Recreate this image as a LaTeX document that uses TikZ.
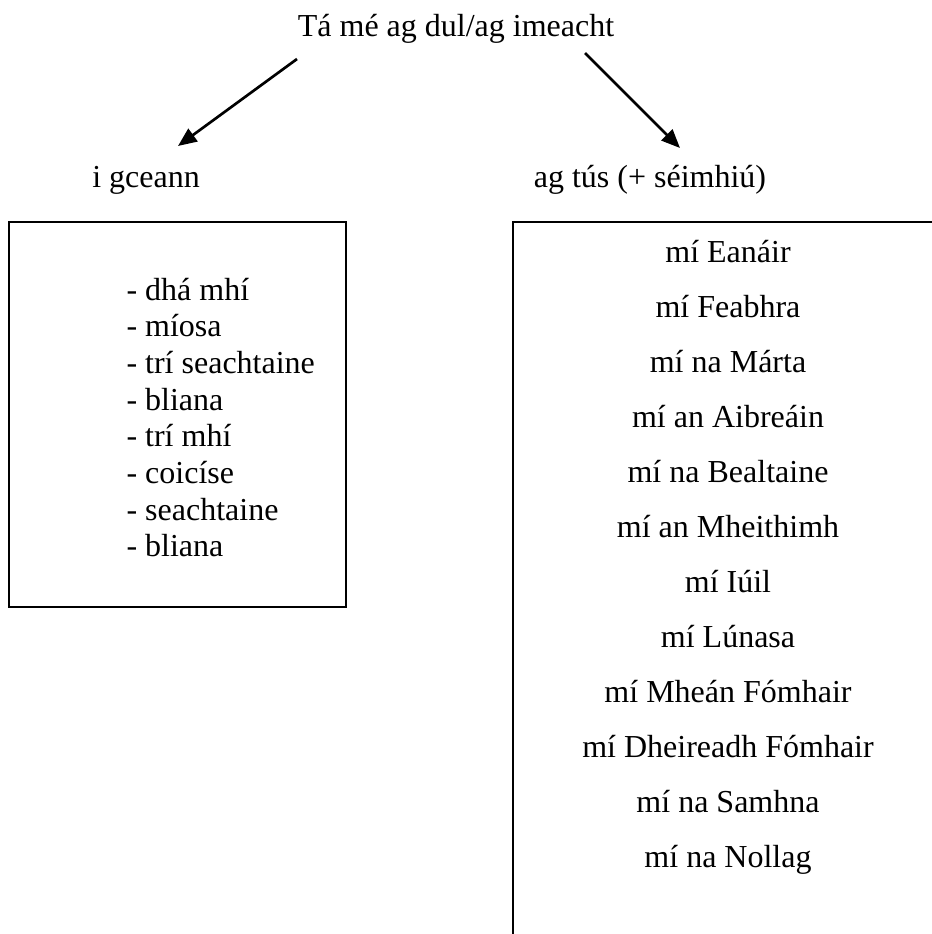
\documentclass[tikz,border=0pt]{standalone}
\usepackage{fontspec}
\setmainfont{Liberation Serif}
\usepackage{tikz}
\usetikzlibrary{arrows.meta}

\begin{document}
\begin{tikzpicture}[x=0.375pt,y=-0.375pt,
  txt/.style={inner sep=0pt,font=\fontsize{12}{14}\selectfont},
  item/.style={txt,anchor=base west},
  month/.style={txt,anchor=base},
  arr/.style={line width=1pt,-{Triangle[length=7pt,width=5.8pt]}}]
\useasboundingbox (0,0) rectangle (931,934);

\node[month] (title) at (456,37) {Tá mé ag dul/ag imeacht};
\node[month] (ceann) at (146,187) {i gceann};
\node[month] (tus) at (650,187) {ag tús (+ séimhiú)};

\coordinate (a1) at (297,59);
\coordinate (a2) at (178,146);
\coordinate (b1) at (585,53);
\coordinate (b2) at (680,148);
\draw[arr] (a1) -- (a2);
\draw[arr] (b1) -- (b2);

\draw[line width=0.9pt] (9,222) rectangle (346,607);
\draw[line width=0.9pt] (935,222) -- (513,222) -- (513,938);

\foreach \t [count=\i from 0] in {dhá mhí,míosa,trí seachtaine,bliana,trí mhí,coicíse,seachtaine,bliana}
  \node[item] (d\i) at (126,{300+36.7*\i}) {- \t};

\foreach \t [count=\i from 0] in {Eanáir,Feabhra,na Márta,an Aibreáin,na Bealtaine,an Mheithimh,Iúil,Lúnasa,Mheán Fómhair,Dheireadh Fómhair,na Samhna,na Nollag}
  \node[month] (m\i) at (728,{262+55*\i}) {mí \t};
\end{tikzpicture}
\end{document}
